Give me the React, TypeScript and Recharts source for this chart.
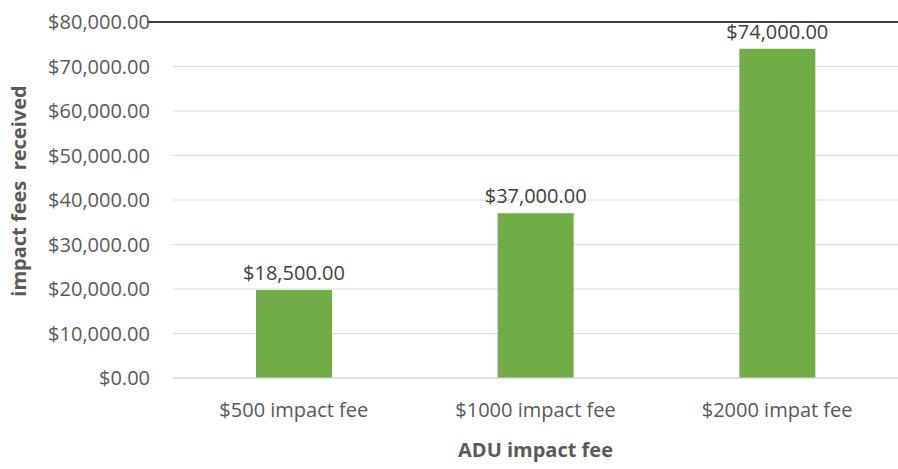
import { BarChart, Bar, XAxis, YAxis, CartesianGrid, LabelList, ReferenceLine } from 'recharts';

const categories = ['$500 impact fee', '$1000 impact fee', '$2000 impat fee'];
const feesReceived = [19800, 37000, 74000];
const valueLabels = ['$18,500.00', '$37,000.00', '$74,000.00'];
const yTicks = [0, 10000, 20000, 30000, 40000, 50000, 60000, 70000, 80000];

const data = categories.map((name, i) => ({ name, value: feesReceived[i], label: valueLabels[i] }));

const FONT = '"Open Sans", sans-serif';

const money = (v: number) =>
  '$' + v.toLocaleString('en-US', { minimumFractionDigits: 2, maximumFractionDigits: 2 });

const YTitle = (props: any) => {
  const vb = props.viewBox;
  const cy = vb.y + vb.height / 2 - 9;
  return (
    <text
      x={18}
      y={cy}
      transform={`rotate(-90, 18, ${cy})`}
      textAnchor="middle"
      dominantBaseline="central"
      fill="#595959"
      fontFamily={FONT}
      fontSize={20}
      fontWeight="bold"
      style={{ whiteSpace: 'pre' }}
    >
      {'impact fees  received'}
    </text>
  );
};

const XTitle = (props: any) => {
  const vb = props.viewBox;
  return (
    <text
      x={vb.x + vb.width / 2}
      y={vb.y + 71}
      textAnchor="middle"
      dominantBaseline="central"
      fill="#595959"
      fontFamily={FONT}
      fontSize={20}
      fontWeight="bold"
    >
      ADU impact fee
    </text>
  );
};

const TopLine = (p: any) => (
  <line x1={p.x1 - 26} y1={p.y1} x2={p.x2} y2={p.y2} stroke="#404040" strokeWidth={2} />
);

export default function App() {
  return (
    <div style={{ width: 898, height: 469, background: '#fff' }}>
      <style>{'body{margin:0}'}</style>
      <BarChart
        width={898}
        height={469}
        data={data}
        margin={{ top: 22, right: 0, bottom: 0, left: 0 }}
      >
        <CartesianGrid vertical={false} stroke="#D9D9D9" strokeWidth={1} />
        <XAxis
          dataKey="name"
          height={91}
          axisLine={{ stroke: '#D9D9D9' }}
          tickLine={false}
          tickMargin={19}
          tick={{ fill: '#595959', fontSize: 20, fontFamily: FONT }}
          label={<XTitle />}
        />
        <YAxis
          width={173}
          domain={[0, 80000]}
          ticks={yTicks}
          axisLine={false}
          tickLine={false}
          tickMargin={17}
          tickFormatter={money}
          tick={{ fill: '#595959', fontSize: 20, fontFamily: FONT }}
          label={<YTitle />}
        />
        <Bar dataKey="value" fill="#70AD47" barSize={76} isAnimationActive={false}>
          <LabelList
            dataKey="label"
            position="top"
            offset={10}
            fill="#404040"
            fontSize={20}
            fontFamily={FONT}
          />
        </Bar>
        <ReferenceLine y={80000} shape={<TopLine />} />
      </BarChart>
    </div>
  );
}
